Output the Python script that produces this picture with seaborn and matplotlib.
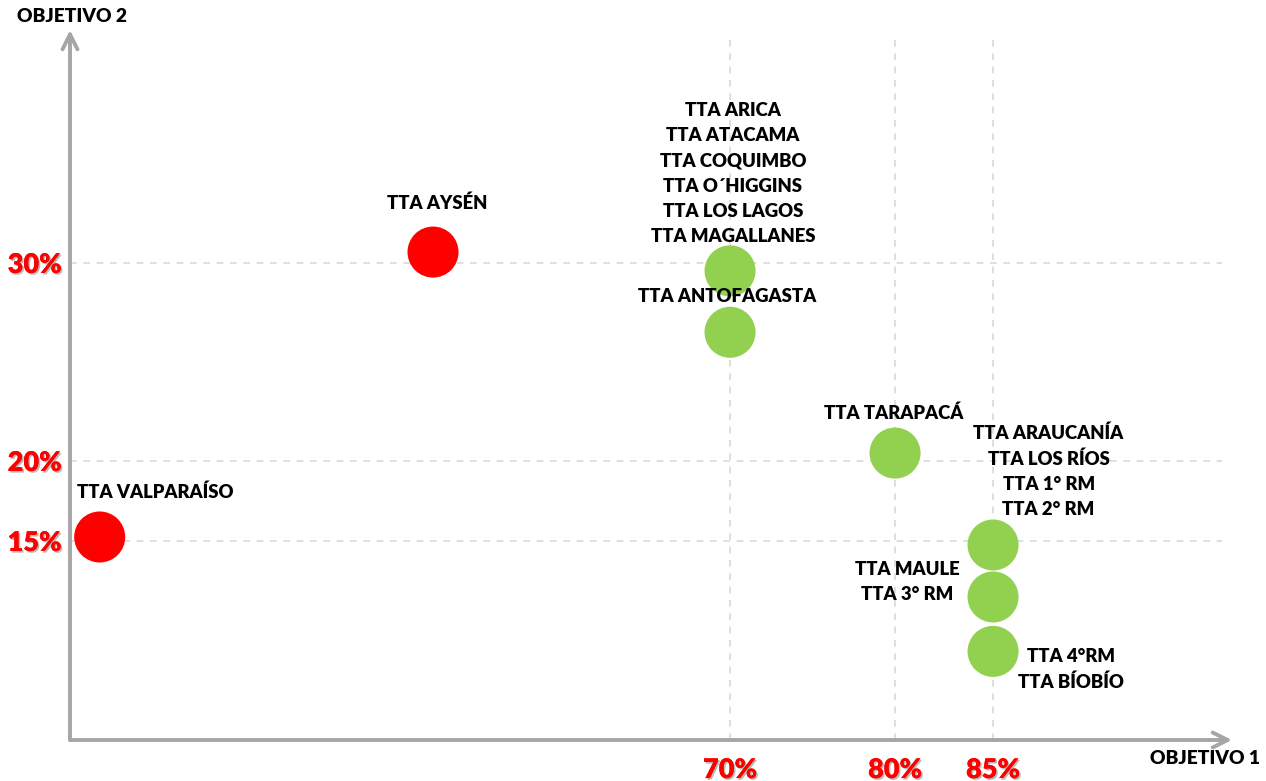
import numpy as np
import pandas as pd
import matplotlib
matplotlib.use("Agg")
import matplotlib.pyplot as plt
import matplotlib.patheffects as pe
import seaborn as sns

# ---------------- data ----------------
labels = [
    "TTA VALPARAÍSO",
    "TTA AYSÉN",
    "TTA ARICA\nTTA ATACAMA\nTTA COQUIMBO\nTTA O´HIGGINS\nTTA LOS LAGOS\nTTA MAGALLANES",
    "TTA ANTOFAGASTA",
    "TTA TARAPACÁ",
    "TTA ARAUCANÍA\nTTA LOS RÍOS\nTTA 1° RM\nTTA 2° RM",
    "TTA MAULE\nTTA 3° RM",
    "TTA 4°RM\nTTA BÍOBÍO",
]
objetivo1 = [31.8, 52.0, 70.0, 70.0, 80.0, 85.0, 85.0, 85.0]
objetivo2 = [15.25, 30.55, 29.6, 26.5, 20.4, 14.75, 11.5, 8.1]
cumple = [False, False, True, True, True, True, True, True]

x_ticks = [70, 80, 85]
x_ticklabels = ["70%", "80%", "85%"]
y_ticks = [15, 20, 30]
y_ticklabels = ["15%", "20%", "30%"]

# label offsets (points): dx, dy
offsets = [(40, 32), (3, 35), (2, 70), (-2, 26), (-1, 29), (40, 53), (-62, 11), (56, -13)]

df = pd.DataFrame({"label": labels, "x": objetivo1, "y": objetivo2, "cumple": cumple})

# --------------- schematic (piecewise) axis scales ---------------
xk = np.array([-100, 30, 70, 80, 85, 100, 200], dtype=float)
xp = np.array([70 - 130 * 16.5, 70, 730, 895, 993, 1287, 1287 + 100 * 19.6])
yk = np.array([-100, 0, 15, 20, 30, 45, 100], dtype=float)
yp = np.array([-1600, 0, 240, 320, 518, 815, 1904])

fx = (lambda v: np.interp(v, xk, xp), lambda p: np.interp(p, xp, xk))
fy = (lambda v: np.interp(v, yk, yp), lambda p: np.interp(p, yp, yk))

sns.set_theme(style="white")
plt.rcParams["font.family"] = ["Lato", "DejaVu Sans"]

W, H = 1266, 781
fig = plt.figure(figsize=(W / 100, H / 100), dpi=100)
ax = fig.add_axes([70 / W, (H - 740) / H, (1222 - 70) / W, (740 - 40) / H])
ax.set_xscale("function", functions=fx)
ax.set_yscale("function", functions=fy)
ax.set_xlim(30, 96.68)
ax.set_ylim(2.5625, 41.26)

sns.scatterplot(data=df, x="x", y="y", hue="cumple",
                palette={True: "#92D050", False: "#FF0000"},
                s=1350, linewidth=0, legend=False, ax=ax, zorder=3, alpha=1)

WEIGHT = "heavy"
for lab, xv, yv, (dx, dy) in zip(labels, objetivo1, objetivo2, offsets):
    ax.annotate(lab, (xv, yv), xytext=(dx, dy), textcoords="offset points",
                ha="center", va="center", fontsize=13.3, fontweight=WEIGHT,
                color="black", linespacing=1.58, zorder=4)

ax.set_xticks(x_ticks)
ax.set_xticklabels(x_ticklabels)
ax.set_yticks(y_ticks)
ax.set_yticklabels(y_ticklabels)
shadow = [pe.withSimplePatchShadow(offset=(1.2, -1.2), shadow_rgbFace="#777777", alpha=0.5), pe.Normal()]
for t in ax.get_xticklabels() + ax.get_yticklabels():
    t.set_color("#FF0000")
    t.set_fontsize(19.5)
    t.set_fontweight(WEIGHT)
    t.set_path_effects(shadow)
ax.tick_params(axis="x", length=0, pad=13)
ax.tick_params(axis="y", length=0, pad=6)
ax.set_xlabel("")
ax.set_ylabel("")

ax.grid(True, color="#d9d9d9", linestyle=(0, (4, 4)), linewidth=1.2, zorder=0)
ax.set_axisbelow(True)
for s in ax.spines.values():
    s.set_visible(False)

arrow = dict(arrowstyle="->,head_length=0.9,head_width=0.45", color="#a6a6a6", lw=2.8,
             shrinkA=0, shrinkB=0)
ax.annotate("", xy=((1232 - 70) / (1222 - 70), 0), xytext=(0, 0),
            xycoords="axes fraction", textcoords="axes fraction",
            arrowprops=arrow, annotation_clip=False)
ax.annotate("", xy=(0, (740 - 30) / (740 - 40)), xytext=(0, 0),
            xycoords="axes fraction", textcoords="axes fraction",
            arrowprops=arrow, annotation_clip=False)

fig.text(72 / W, 1 - 17 / H, "OBJETIVO 2", ha="center", va="center",
         fontsize=13.8, fontweight=WEIGHT, color="black")
fig.text(1205 / W, 1 - 759 / H, "OBJETIVO 1", ha="center", va="center",
         fontsize=13.8, fontweight=WEIGHT, color="black")

fig.savefig("out.png", dpi=100)
